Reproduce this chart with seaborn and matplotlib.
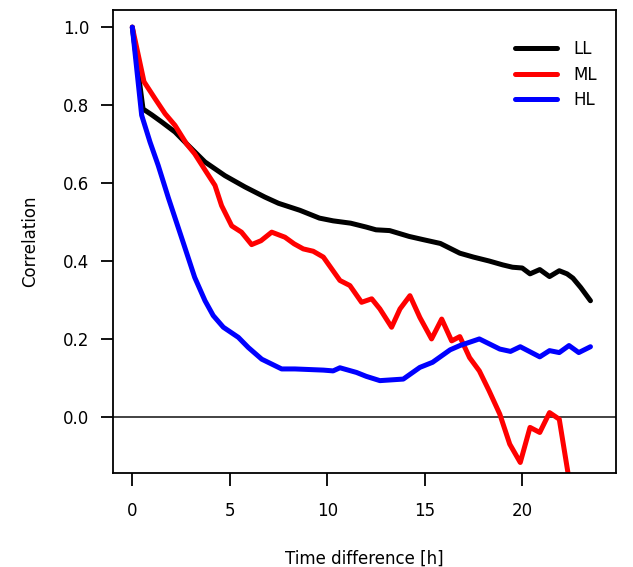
import numpy as np
import pandas as pd
import matplotlib
matplotlib.use("Agg")
import matplotlib.pyplot as plt
import seaborn as sns

# ---- data ----
ll_t = [0, 0.55, 1.0, 1.5, 2.19, 2.8, 3.73, 4.75, 5.78, 6.8, 7.5, 8.6, 9.6, 10.3, 11.2,
        12.0, 12.5, 13.2, 14.2, 14.9, 15.8, 16.8, 17.5, 18.3, 19.0, 19.5, 20.0, 20.4,
        20.9, 21.4, 21.9, 22.3, 22.6, 23.0, 23.5]
ll_r = [1.0, 0.79, 0.775, 0.757, 0.731, 0.70, 0.654, 0.619, 0.59, 0.564, 0.548, 0.53, 0.51,
        0.503, 0.497, 0.487, 0.48, 0.478, 0.463, 0.455, 0.445, 0.42, 0.41, 0.40, 0.39,
        0.384, 0.382, 0.367, 0.378, 0.36, 0.375, 0.367, 0.356, 0.332, 0.298]

ml_t = [0, 0.6, 1.16, 1.68, 2.19, 2.79, 3.2, 3.8, 4.24, 4.58, 5.1, 5.6, 6.12, 6.6, 7.15,
        7.83, 8.3, 8.77, 9.28, 9.8, 10.65, 11.16, 11.76, 12.28, 12.7, 13.3, 13.73, 14.24,
        14.75, 15.35, 15.87, 16.38, 16.8, 17.3, 17.8, 18.3, 18.85, 19.36, 19.9, 20.4,
        20.9, 21.4, 21.9, 22.4, 22.9]
ml_r = [1.0, 0.86, 0.817, 0.778, 0.748, 0.70, 0.675, 0.628, 0.594, 0.542, 0.49, 0.474,
        0.442, 0.452, 0.474, 0.461, 0.444, 0.431, 0.425, 0.41, 0.35, 0.337, 0.294, 0.303,
        0.277, 0.23, 0.277, 0.311, 0.255, 0.20, 0.251, 0.195, 0.206, 0.152, 0.118, 0.067,
        0.007, -0.07, -0.117, -0.027, -0.04, 0.011, -0.006, -0.16, -0.30]

hl_t = [0, 0.48, 0.91, 1.33, 1.85, 2.62, 3.2, 3.73, 4.15, 4.67, 5.44, 5.95, 6.64, 7.66,
        8.34, 9.8, 10.3, 10.65, 11.5, 12.0, 12.7, 13.9, 14.75, 15.4, 16.3, 16.8, 17.8,
        18.85, 19.4, 19.9, 20.9, 21.4, 21.9, 22.4, 22.9, 23.5]
hl_r = [1.0, 0.774, 0.705, 0.645, 0.562, 0.446, 0.358, 0.298, 0.26, 0.23, 0.204, 0.178,
        0.148, 0.123, 0.123, 0.12, 0.118, 0.126, 0.114, 0.104, 0.093, 0.097, 0.127, 0.14,
        0.172, 0.183, 0.20, 0.174, 0.168, 0.18, 0.154, 0.17, 0.165, 0.183, 0.165, 0.18]

series = ["LL", "ML", "HL"]
colors = {"LL": "#000000", "ML": "#ff0000", "HL": "#0000ff"}
x_ticks = [0, 5, 10, 15, 20]
y_ticks = [0.0, 0.2, 0.4, 0.6, 0.8, 1.0]

df = pd.concat([
    pd.DataFrame({"t": ll_t, "r": ll_r, "series": "LL"}),
    pd.DataFrame({"t": ml_t, "r": ml_r, "series": "ML"}),
    pd.DataFrame({"t": hl_t, "r": hl_r, "series": "HL"}),
], ignore_index=True)

sns.set_style("white")
plt.rcParams["font.family"] = ["DejaVu Sans"]
plt.rcParams["text.color"] = "black"
plt.rcParams["axes.labelcolor"] = "black"

fig = plt.figure(figsize=(6.33, 5.67), dpi=100)
ax = fig.add_axes([113 / 633, 1 - 473 / 567, 503 / 633, 463 / 567])

ax.axhline(0, color="#222222", linewidth=1.2, zorder=1)

sns.lineplot(data=df, x="t", y="r", hue="series", hue_order=series, palette=colors,
             estimator=None, sort=False, linewidth=3.6, legend=False, ax=ax, zorder=2)
for ln in ax.lines[1:]:
    ln.set_solid_capstyle("round")
    ln.set_solid_joinstyle("round")

ax.set_xlim(-0.99, 24.81)
ax.set_ylim(-0.144, 1.044)
ax.set_xticks(x_ticks)
ax.set_xticklabels([str(v) for v in x_ticks])
ax.set_yticks(y_ticks)
ax.set_yticklabels([f"{v:.1f}" for v in y_ticks])

for s in ax.spines.values():
    s.set_visible(True)
    s.set_color("black")
    s.set_linewidth(1.3)

ax.tick_params(axis="both", direction="out", length=9, width=1.3, color="black",
               labelsize=12, labelcolor="black")
ax.tick_params(axis="x", pad=12, bottom=True)
ax.tick_params(axis="y", pad=8, left=True)

ax.set_xlabel("Time difference [h]", fontsize=12, labelpad=21, color="black")
ax.set_ylabel("Correlation", fontsize=12, labelpad=17, color="black")
ax.grid(False)

handles = ax.lines[1:4]
leg = ax.legend(handles, series, loc="upper left", bbox_to_anchor=(0.799, 0.935),
                frameon=False, fontsize=12, handlelength=2.5, handletextpad=1.0,
                labelspacing=0.45, borderpad=0, borderaxespad=0, labelcolor="black")

fig.savefig("out.png", dpi=100)
